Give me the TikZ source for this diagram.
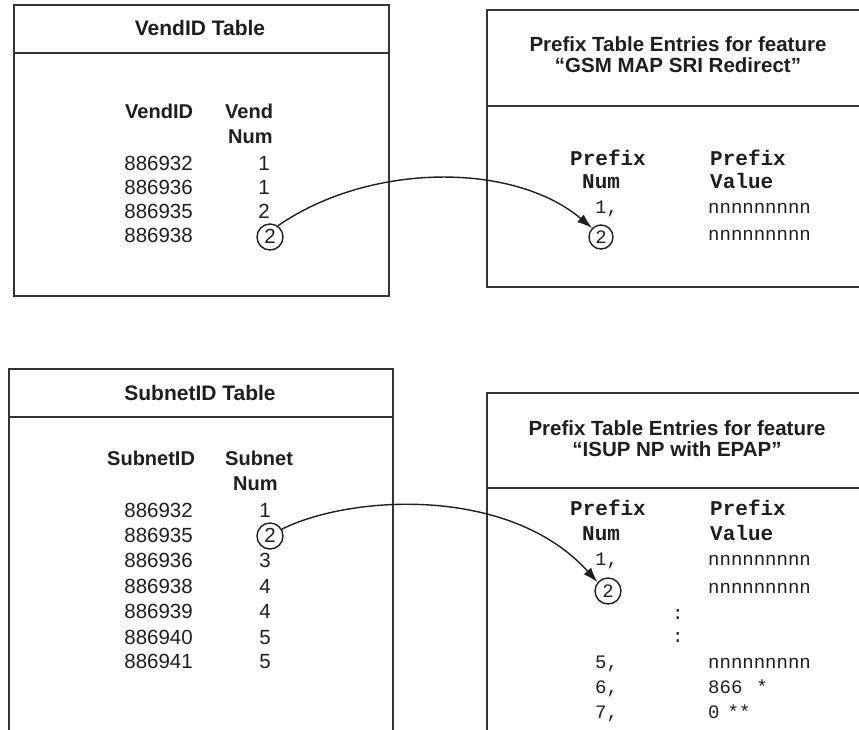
\documentclass[tikz,border=0pt]{standalone}
\usepackage{fontspec}
\setmainfont{Liberation Sans}
\setmonofont{Liberation Mono}
\usetikzlibrary{arrows.meta}
\definecolor{ink}{HTML}{1E1E1E}
\definecolor{frame}{HTML}{333333}
\tikzset{
  boxline/.style={draw=frame, line width=2.2pt},
  ttl/.style={font=\fontsize{21}{21}\selectfont\bfseries, text=ink, inner sep=0pt, anchor=base},
  ftl/.style={font=\fontsize{20.5}{21}\selectfont\bfseries, text=ink, inner sep=0pt, anchor=base, align=center},
  hdr/.style={font=\fontsize{20}{20}\selectfont\bfseries, text=ink, inner sep=0pt, anchor=base west},
  num/.style={font=\fontsize{20.5}{20}\selectfont, text=ink, inner sep=0pt, anchor=base east},
  val/.style={font=\fontsize{20.5}{20}\selectfont, text=ink, inner sep=0pt, anchor=base},
  mhdr/.style={font=\fontsize{21}{21}\ttfamily\bfseries, text=ink, inner sep=0pt, anchor=base west},
  mval/.style={font=\fontsize{19}{19}\ttfamily, text=ink, inner sep=0pt, anchor=base west},
  ring/.style={draw=ink, circle, line width=1.4pt, inner sep=0pt, minimum size=#1},
  ring/.default=26pt,
  link/.style={draw=ink, line width=1.4pt, -{Latex[length=15pt,width=10pt]}}
}
\begin{document}
\begin{tikzpicture}[x=1pt,y=-1pt]
\path[use as bounding box] (0,0) rectangle (859,729);
% ---------- boxes ----------
\draw[boxline] (14,5) rectangle (389,296);
\draw[boxline] (14,53) -- (389,53);
\draw[boxline] (865,10) -- (487,10) -- (487,287) -- (865,287);
\draw[boxline] (487,106) -- (865,106);
\draw[boxline] (9,735) -- (9,369) -- (393,369) -- (393,735);
\draw[boxline] (9,417) -- (393,417);
\draw[boxline] (865,393) -- (487,393) -- (487,735);
\draw[boxline] (487,488) -- (865,488);
% ---------- VendID table ----------
\node[ttl] (vt) at (200,35) {VendID Table};
\node[hdr] (vh1) at (125,118) {VendID};
\node[hdr] (vh2) at (225,118) {Vend};
\node[hdr] (vh3) at (228,143) {Num};
\node[num] (v1) at (193,170) {886932};
\node[num] (v2) at (193,194) {886936};
\node[num] (v3) at (193,218) {886935};
\node[num] (v4) at (193,242) {886938};
\node[val] (vn1) at (264,170) {1};
\node[val] (vn2) at (264,194) {1};
\node[val] (vn3) at (264,218) {2};
\node[val] (vn4) at (270,243) {2};
\node[ring] (vc) at (270,237) {};
% ---------- Prefix table GSM ----------
\node[ftl] (pt1) at (678,51) {Prefix Table Entries for feature};
\node[ftl] (pt2) at (678,72) {“GSM MAP SRI Redirect”};
\node[mhdr] (ph1) at (570,165) {Prefix};
\node[mhdr] (ph2) at (582,188) {Num};
\node[mhdr] (ph3) at (710,165) {Prefix};
\node[mhdr] (ph4) at (710,188) {Value};
\node[mval] (pn1) at (595,213) {1,};
\node[mval] (pv1) at (708,213) {nnnnnnnnn};
\node[mval] (pv2) at (708,240) {nnnnnnnnn};
\node[font=\fontsize{19}{19}\ttfamily, text=ink, inner sep=0pt] (pn2t) at (601,237) {2};
\node[ring=24pt] (pc1) at (601,237) {};
% ---------- SubnetID table ----------
\node[ttl] (st) at (200,400) {SubnetID Table};
\node[hdr] (sh1) at (107,465) {SubnetID};
\node[hdr] (sh2) at (225,465) {Subnet};
\node[hdr] (sh3) at (233,490) {Num};
\node[num] (s1) at (193,517) {886932};
\node[num] (s2) at (193,542) {886935};
\node[num] (s3) at (193,567) {886936};
\node[num] (s4) at (193,593) {886938};
\node[num] (s5) at (193,618) {886939};
\node[num] (s6) at (193,644) {886940};
\node[num] (s7) at (193,668) {886941};
\node[val] (sn1) at (265,517) {1};
\node[val] (sn2) at (270,542) {2};
\node[val] (sn3) at (265,567) {3};
\node[val] (sn4) at (265,593) {4};
\node[val] (sn5) at (265,618) {4};
\node[val] (sn6) at (265,644) {5};
\node[val] (sn7) at (265,668) {5};
\node[ring] (sc) at (270,536) {};
% ---------- Prefix table ISUP ----------
\node[ftl] (qt1) at (677,435) {Prefix Table Entries for feature};
\node[ftl] (qt2) at (677,456) {“ISUP NP with EPAP”};
\node[mhdr] (qh1) at (570,515) {Prefix};
\node[mhdr] (qh2) at (582,540) {Num};
\node[mhdr] (qh3) at (710,515) {Prefix};
\node[mhdr] (qh4) at (710,540) {Value};
\node[mval] (qn1) at (595,565) {1,};
\node[mval] (qv1) at (708,565) {nnnnnnnnn};
\node[mval] (qv2) at (708,593) {nnnnnnnnn};
\node[font=\fontsize{19}{19}\ttfamily, text=ink, inner sep=0pt] (qn2t) at (608,591) {2};
\node[ring=26pt] (pc2) at (608,591) {};
\node[mval] (qd1) at (672,619) {:};
\node[mval] (qd2) at (672,642) {:};
\node[mval] (qn5) at (595,668) {5,};
\node[mval] (qv5) at (708,668) {nnnnnnnnn};
\node[mval] (qn6) at (595,693) {6,};
\node[mval] (qv6) at (708,693) {866\hspace{14pt}*};
\node[mval] (qn7) at (595,718) {7,};
\node[mval] (qv7) at (708,718) {0\hspace{8pt}**};
% ---------- connectors ----------
\draw[link] (vc.55) .. controls (370,162) and (514,162) .. (pc1.135);
\draw[link] (sc.30) .. controls (350,495) and (510,485) .. (pc2.140);
\end{tikzpicture}
\end{document}
